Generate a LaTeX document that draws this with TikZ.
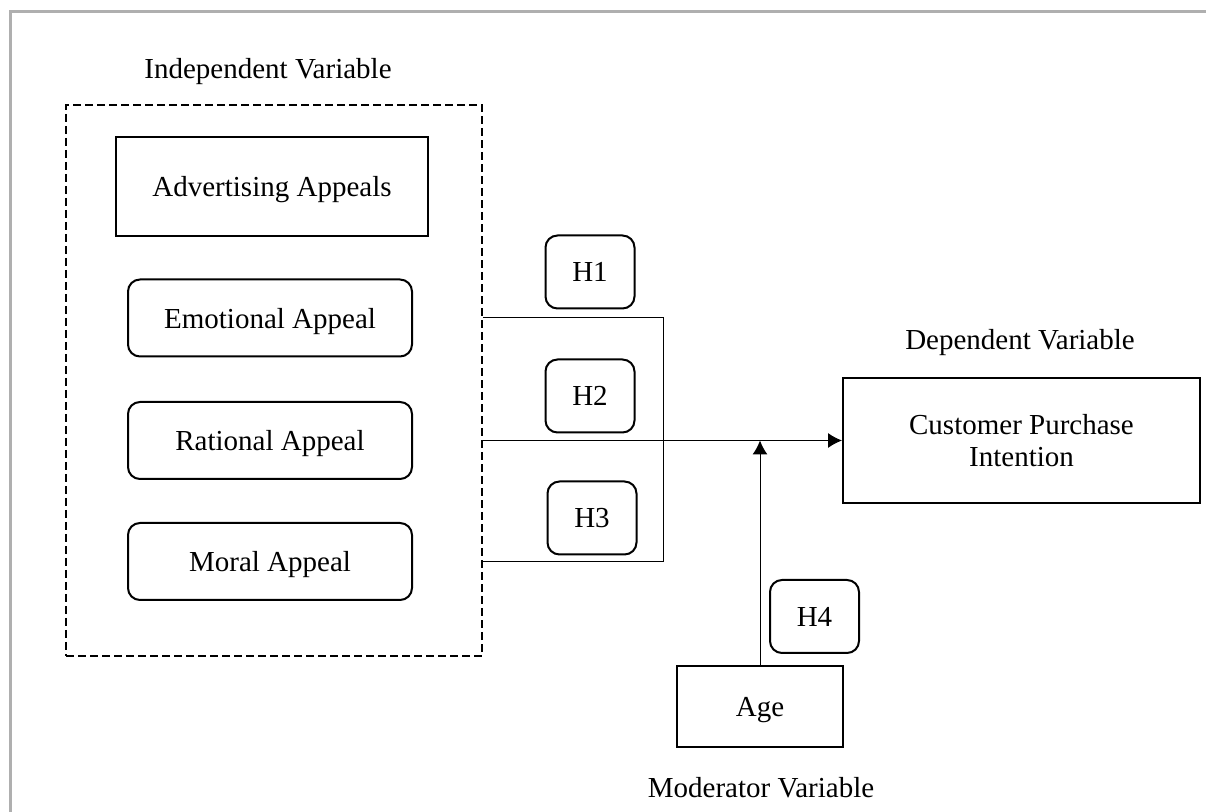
\documentclass[tikz,border=0pt]{standalone}
\usepackage{fontspec}
\setmainfont{Liberation Serif}
\usetikzlibrary{arrows.meta,positioning}
\definecolor{framegray}{RGB}{175,175,175}
\tikzset{
  plainbox/.style={draw, line width=1pt, minimum width=#1, inner sep=0pt, text depth=0pt},
  roundbox/.style={draw, line width=1pt, rounded corners=6pt, minimum width=#1, inner sep=0pt, text depth=0pt},
  link/.style={line width=0.5pt},
}
\begin{document}
\begin{tikzpicture}[x=0.5pt, y=-0.5pt, >={Latex[length=7pt,width=7.5pt]},
  font=\fontsize{14.5}{17}\selectfont]
\useasboundingbox (0,0) rectangle (1206,812);
% Frame
  \draw[framegray, line width=1.5pt] (10,812) -- (10,12) -- (1206,12);

% Left block
% Independent variable and its appeals
  \node (ivlabel) at (268,72) {Independent Variable};
  \node[draw, dash pattern=on 4pt off 2pt, line width=1pt, minimum width=208pt,
        minimum height=275.5pt] (ivbox) at (274,380.5) {};
  \node[plainbox=156pt, minimum height=49.5pt] (adv) at (272,186.5) {Advertising Appeals};
  \node[roundbox=142pt, minimum height=38.5pt] (emo) at (270,318) {Emotional Appeal};
  \node[roundbox=142pt, minimum height=38.5pt] (rat) at (270,440.5) {Rational Appeal};
  \node[roundbox=142pt, minimum height=38.5pt] (mor) at (270,561.5) {Moral Appeal};

% Hypotheses
  \node[roundbox=44.5pt, minimum height=36.5pt] (h1) at (590,272) {H1};
  \node[roundbox=44.5pt, minimum height=36.5pt] (h2) at (590,396) {H2};
  \node[roundbox=44.5pt, minimum height=36.5pt] (h3) at (592,518) {H3};
  \node[roundbox=44.5pt, minimum height=36.5pt] (h4) at (814.5,616.5) {H4};

% Right block
% Dependent variable
  \node (dvlabel) at (1020,343) {Dependent Variable};
  \node[plainbox=178.5pt, minimum height=62.5pt, align=center] (cpi) at (1021.5,440.5)
    {Customer Purchase\\[-1pt]Intention};

% Moderator
  \node[plainbox=83pt, minimum height=40.5pt] (age) at (760,706.5) {Age};
  \node (mvlabel) at (761,788) {Moderator Variable};

% Connectors
  \coordinate (jn) at (663,440.5);
  \draw[link] (ivbox.east |- emo) -- (jn |- emo) -- (jn |- mor) -- (ivbox.east |- mor);
  \draw[link,->] (ivbox.east |- rat) -- (cpi.west |- rat);
  \draw[link,->] (age.north) -- (age.north |- rat);
\end{tikzpicture}
\end{document}
